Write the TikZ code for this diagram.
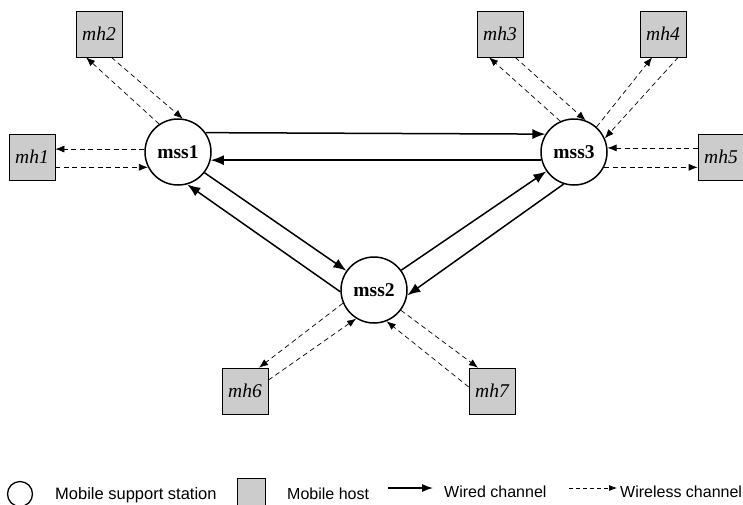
\documentclass[tikz,border=0pt]{standalone}
\usepackage{fontspec}
\setmainfont{Liberation Serif}
\setsansfont{Liberation Sans}
\usetikzlibrary{arrows.meta}
\definecolor{boxgray}{RGB}{204,204,204}
\begin{document}
\begin{tikzpicture}[x=1pt,y=-1pt,
  mss/.style={circle,draw,line width=1.5pt,minimum size=66pt,inner sep=0pt,font=\fontsize{19.5}{22}\selectfont\bfseries},
  mh/.style={rectangle,draw,line width=0.7pt,fill=boxgray,minimum size=46pt,inner sep=0pt,font=\fontsize{19.5}{22}\selectfont\itshape},
  wired/.style={line width=1.5pt,-{Latex[length=13pt,width=10pt]}},
  wireless/.style={line width=0.7pt,dash pattern=on 5pt off 3.5pt,-{Latex[length=9pt,width=7pt]}},
  legtext/.style={anchor=base west,inner sep=0pt,font=\sffamily\fontsize{16}{18}\selectfont},
]
\useasboundingbox (0,0) rectangle (743,504);
% stations
\node[mss] (mss1) at (178,152) {mss1};
\node[mss] (mss3) at (574,152) {mss3};
\node[mss] (mss2) at (374,290) {mss2};
% hosts
\node[mh] (mh1) at (32,157) {mh1};
\node[mh] (mh2) at (99,34) {mh2};
\node[mh] (mh3) at (500,34) {mh3};
\node[mh] (mh4) at (663,34) {mh4};
\node[mh] (mh5) at (721,157) {mh5};
\node[mh] (mh6) at (245,391) {mh6};
\node[mh] (mh7) at (492,391) {mh7};
% wired
\draw[wired] (mss1.35) -- (mss3.148);
\draw[wired] (mss3.194) -- (mss1.-14);
\draw[wired] (mss1.-38) -- (mss2.145);
\draw[wired] (mss2.183) -- (mss1.-74);
\draw[wired] (mss2.36) -- (mss3.215);
\draw[wired] (mss3.252) -- (mss2.-9);
% wireless
\draw[wireless] (mss1.175) -- (mss1.175 -| mh1.east);
\draw[wireless] (mh1.east |- mss1.207) -- (mss1.207);
\draw[wireless] (mss1.124) -- (mh2.-119);
\draw[wireless] (mh2.-62) -- (mss1.82);
\draw[wireless] (mss3.114) -- (mh3.-115);
\draw[wireless] (mh3.-57) -- (mss3.70);
\draw[wireless] (mss3.48) -- (mh4.-115);
\draw[wireless] (mh4.-57) -- (mss3.24);
\draw[wireless] (mh5.west |- mss3.7) -- (mss3.7);
\draw[wireless] (mss3.-27) -- (mss3.-27 -| mh5.west);
\draw[wireless] (mss2.203) -- (mh6.59);
\draw[wireless] (mh6.25) -- (mss2.238);
\draw[wireless] (mss2.-37) -- (mh7.121);
\draw[wireless] (mh7.170) -- (mss2.-68);
% legend
\node[circle,draw,line width=1.3pt,minimum size=25pt,inner sep=0pt] (lgc) at (20,494) {};
\node[legtext,font=\sffamily\fontsize{16.5}{18}\selectfont] (t1) at (55,499) {Mobile support station};
\node[draw,fill=boxgray,line width=0.7pt,minimum width=28pt,minimum height=34pt,inner sep=0pt] (lgb) at (251,495) {};
\node[legtext] (t2) at (287,499) {Mobile host};
\coordinate (w1) at (388,488);
\coordinate (w2) at (433,488);
\draw[line width=1.2pt,-{Latex[length=11pt,width=8pt]}] (w1) -- (w2);
\node[legtext] (t3) at (444,497) {Wired channel};
\coordinate (d1) at (569,488);
\coordinate (d2) at (617,488);
\draw[line width=0.7pt,dash pattern=on 4pt off 3pt,-{Latex[length=8pt,width=6pt]}] (d1) -- (d2);
\node[legtext] (t4) at (620,497) {Wireless channel};
\end{tikzpicture}
\end{document}
